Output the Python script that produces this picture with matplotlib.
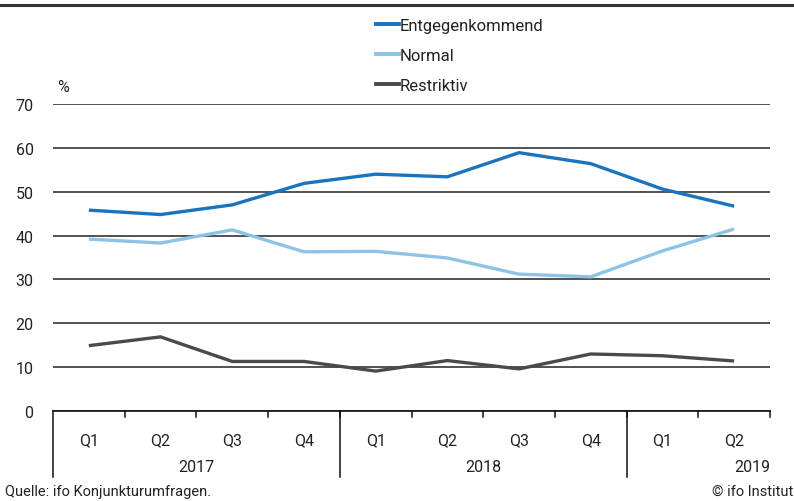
import matplotlib.pyplot as plt
from matplotlib.lines import Line2D

plt.rcParams['font.family'] = ['Roboto', 'DejaVu Sans']

quarters = ["Q1", "Q2", "Q3", "Q4", "Q1", "Q2", "Q3", "Q4", "Q1", "Q2"]
years = ["2017", "2018", "2019"]
year_spans = [(0, 4), (4, 8), (8, 10)]

entgegenkommend = [45.8, 44.8, 47.0, 51.9, 54.0, 53.4, 58.9, 56.4, 50.6, 46.7]
normal = [39.2, 38.3, 41.3, 36.3, 36.4, 34.9, 31.2, 30.6, 36.5, 41.5]
restriktiv = [14.9, 16.9, 11.3, 11.3, 9.1, 11.5, 9.6, 13.0, 12.6, 11.4]

c_ent = "#1a74bd"
c_norm = "#8dc3e4"
c_res = "#4a4a4a"
txt = "#222222"

fig = plt.figure(figsize=(7.94, 5.02), dpi=100)
ax = fig.add_axes([53 / 794, 90 / 502, 717 / 794, 307 / 502])

x = [i + 0.5 for i in range(len(quarters))]
ax.plot(x, entgegenkommend, color=c_ent, lw=2.4, solid_capstyle="butt", zorder=3)
ax.plot(x, normal, color=c_norm, lw=2.4, solid_capstyle="butt", zorder=3)
ax.plot(x, restriktiv, color=c_res, lw=2.4, solid_capstyle="butt", zorder=3)

ax.set_xlim(0, len(quarters))
ax.set_ylim(0, 70)
ax.set_yticks(range(0, 71, 10))
ax.yaxis.grid(True, color="#333333", lw=1.2)
ax.set_axisbelow(True)
for s in ["left", "right", "top"]:
    ax.spines[s].set_visible(False)
ax.spines["bottom"].set_color("#111111")
ax.spines["bottom"].set_linewidth(1.2)
ax.tick_params(axis="y", length=0, pad=14, labelsize=11.5, labelcolor=txt)

# category boundary ticks
ax.set_xticks(range(0, len(quarters) + 1))
ax.set_xticklabels([])
ax.tick_params(axis="x", direction="in", length=0)
for b in range(1, len(quarters) + 1):
    ax.plot([b, b], [0, -1.3], color="#111111", lw=1.1, clip_on=False)

# quarter labels
for xi, q in zip(x, quarters):
    ax.text(xi, -6.5, q, ha="center", va="center", fontsize=11.5, color=txt)

# year separators and labels
for (a, b), y in zip(year_spans, years):
    ax.plot([a, a], [0, -15], color="#111111", lw=1.1, clip_on=False)
    if y == "2019":
        ax.text(b, -12.6, y, ha="right", va="center", fontsize=11.5, color=txt)
    else:
        ax.text((a + b) / 2, -12.6, y, ha="center", va="center", fontsize=11.5, color=txt)

ax.text(0.14, 74, "%", ha="center", va="center", fontsize=11.5, color=txt)

handles = [
    Line2D([], [], color=c_ent, lw=2.8),
    Line2D([], [], color=c_norm, lw=2.8),
    Line2D([], [], color=c_res, lw=2.8),
]
fig.legend(handles, ["Entgegenkommend", "Normal", "Restriktiv"],
           loc="upper left", bbox_to_anchor=(376 / 794, 1 - 19 / 502),
           frameon=False, fontsize=12, handlelength=1.35, handletextpad=0.05,
           labelspacing=0.9, labelcolor=txt, borderaxespad=0, borderpad=0)

# top rule
fig.add_artist(Line2D([0, 1], [1 - 6 / 502, 1 - 6 / 502], color="#333333", lw=2.2))

fig.text(5 / 794, 10 / 502, "Quelle: ifo Konjunkturumfragen.", ha="left", va="center",
         fontsize=10.5, color=txt)
fig.text(0.999, 10 / 502, "© ifo Institut", ha="right", va="center", fontsize=10.5, color=txt)

fig.savefig("out.png", dpi=100)
